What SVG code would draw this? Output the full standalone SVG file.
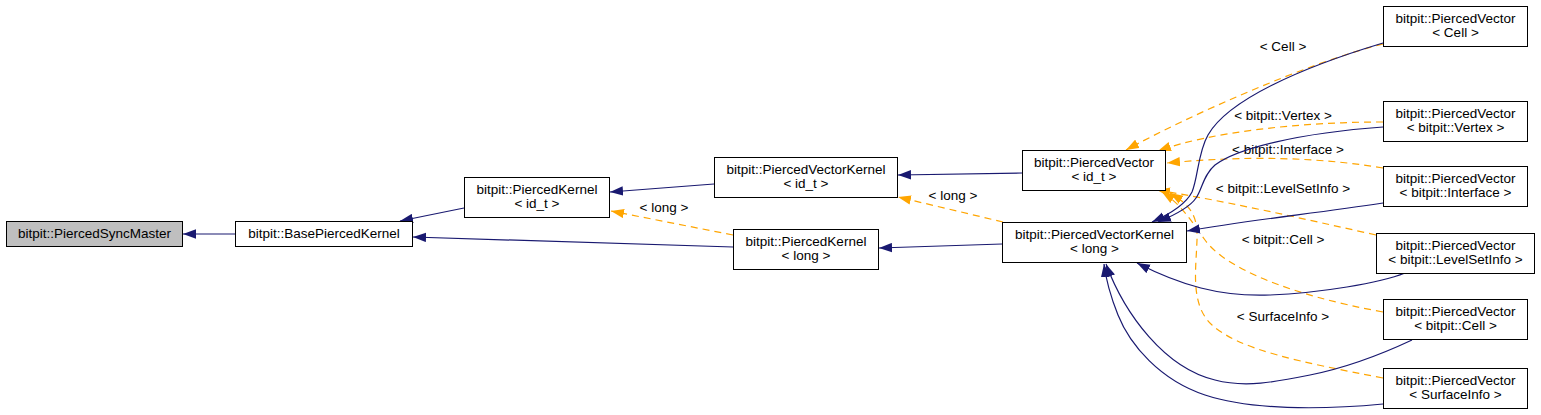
<svg xmlns="http://www.w3.org/2000/svg" width="1541" height="415" viewBox="0 0 1541 415">
<style>
.n rect{fill:#ffffff;stroke:#000000;stroke-width:1}
.n rect.hl{fill:#bfbfbf}
text{font-family:"Liberation Sans",Arial,Helvetica,sans-serif;font-size:13.5px;fill:#000000;text-anchor:middle}
.e{fill:none;stroke:#191970;stroke-width:1.2;marker-end:url(#ab)}
.t{fill:none;stroke:#ffa500;stroke-width:1.2;stroke-dasharray:7,5;marker-end:url(#ao)}
</style>
<defs>
<marker id="ab" markerUnits="userSpaceOnUse" viewBox="0 -5 13 10" refX="13" refY="0" markerWidth="13" markerHeight="10" orient="auto"><path d="M0,-4.7 L13,0 L0,4.7 z" fill="#191970"/></marker>
<marker id="ao" markerUnits="userSpaceOnUse" viewBox="0 -5 13 10" refX="13" refY="0" markerWidth="13" markerHeight="10" orient="auto"><path d="M0,-4.7 L13,0 L0,4.7 z" fill="#ffa500"/></marker>
</defs>
<g id="edges">
<path class="e" d="M235,234 L183,234"/>
<path class="e" d="M464,208 L400,221"/>
<path class="e" d="M733,247 L413,237"/>
<path class="e" d="M714,184 L610,192"/>
<path class="t" d="M733,235 L611,211"/>
<text x="664" y="212">&lt; long &gt;</text>
<path class="e" d="M1022,173 L898,175"/>
<path class="e" d="M1002,244 L879,248"/>
<path class="t" d="M1003,222 L898,197"/>
<text x="953" y="200">&lt; long &gt;</text>
<path class="t" d="M1383,44 C1310,62 1190,115 1126,150"/>
<text x="1283" y="51">&lt; Cell &gt;</text>
<path class="t" d="M1383,122 C1300,122 1210,132 1158,151"/>
<text x="1283" y="120">&lt; bitpit::Vertex &gt;</text>
<path class="t" d="M1383,168 C1300,154 1220,158 1167,163"/>
<text x="1288" y="154">&lt; bitpit::Interface &gt;</text>
<path class="t" d="M1376,235 C1300,218 1230,202 1157,190"/>
<text x="1283" y="193">&lt; bitpit::LevelSetInfo &gt;</text>
<path class="t" d="M1383,312 C1290,295 1225,268 1205,240 C1192,222 1182,205 1162,192"/>
<text x="1283" y="244">&lt; bitpit::Cell &gt;</text>
<path class="t" d="M1383,378 C1300,362 1240,350 1212,325 C1190,305 1196,270 1197,240 C1198,215 1190,205 1170,193"/>
<text x="1283" y="321">&lt; SurfaceInfo &gt;</text>
<path class="e" d="M1383,43 C1300,68 1228,100 1208,135 C1198,152 1198,178 1192,192 C1186,204 1170,214 1152,222"/>
<path class="e" d="M1383,127 C1300,133 1238,148 1215,165 C1203,175 1202,190 1196,198 C1190,207 1175,215 1158,222"/>
<path class="e" d="M1383,203 C1310,214 1250,220 1187,231"/>
<path class="e" d="M1405,273 C1380,283 1320,293 1270,295 C1220,297 1180,285 1137,263"/>
<path class="e" d="M1412,340 C1380,355 1345,368 1310,375 C1275,382 1245,388 1215,380 C1165,368 1125,315 1106,264"/>
<path class="e" d="M1383,404 C1320,410 1250,410 1205,395 C1160,380 1130,345 1118,315 C1110,295 1106,280 1104,264"/>
</g>
<g id="n1" class="n"><rect class="hl" x="6.5" y="221.5" width="176" height="25"/><text x="94.5" y="238">bitpit::PiercedSyncMaster</text></g>
<g id="n2" class="n"><rect x="235.5" y="221.5" width="177" height="25"/><text x="324" y="238">bitpit::BasePiercedKernel</text></g>
<g id="n3" class="n"><rect x="464.5" y="177.5" width="145" height="40"/><text x="537" y="193.5">bitpit::PiercedKernel</text><text x="537" y="207.5">&lt; id_t &gt;</text></g>
<g id="n4" class="n"><rect x="714.5" y="157.5" width="183" height="40"/><text x="806" y="173.5">bitpit::PiercedVectorKernel</text><text x="806" y="187.5">&lt; id_t &gt;</text></g>
<g id="n5" class="n"><rect x="733.5" y="229.5" width="145" height="40"/><text x="806" y="245.5">bitpit::PiercedKernel</text><text x="806" y="259.5">&lt; long &gt;</text></g>
<g id="n6" class="n"><rect x="1022.5" y="150.5" width="143" height="40"/><text x="1094" y="166.5">bitpit::PiercedVector</text><text x="1094" y="180.5">&lt; id_t &gt;</text></g>
<g id="n7" class="n"><rect x="1002.5" y="222.5" width="184" height="40"/><text x="1094.5" y="238.5">bitpit::PiercedVectorKernel</text><text x="1094.5" y="252.5">&lt; long &gt;</text></g>
<g id="n8" class="n"><rect x="1383.5" y="6.5" width="144" height="40"/><text x="1455.5" y="22.5">bitpit::PiercedVector</text><text x="1455.5" y="36.5">&lt; Cell &gt;</text></g>
<g id="n9" class="n"><rect x="1383.5" y="101.5" width="144" height="40"/><text x="1455.5" y="117.5">bitpit::PiercedVector</text><text x="1455.5" y="131.5">&lt; bitpit::Vertex &gt;</text></g>
<g id="n10" class="n"><rect x="1383.5" y="166.5" width="144" height="40"/><text x="1455.5" y="182.5">bitpit::PiercedVector</text><text x="1455.5" y="196.5">&lt; bitpit::Interface &gt;</text></g>
<g id="n11" class="n"><rect x="1376.5" y="233.5" width="158" height="40"/><text x="1455.5" y="249.5">bitpit::PiercedVector</text><text x="1455.5" y="263.5">&lt; bitpit::LevelSetInfo &gt;</text></g>
<g id="n12" class="n"><rect x="1383.5" y="299.5" width="144" height="40"/><text x="1455.5" y="315.5">bitpit::PiercedVector</text><text x="1455.5" y="329.5">&lt; bitpit::Cell &gt;</text></g>
<g id="n13" class="n"><rect x="1383.5" y="368.5" width="144" height="40"/><text x="1455.5" y="384.5">bitpit::PiercedVector</text><text x="1455.5" y="398.5">&lt; SurfaceInfo &gt;</text></g>
</svg>
